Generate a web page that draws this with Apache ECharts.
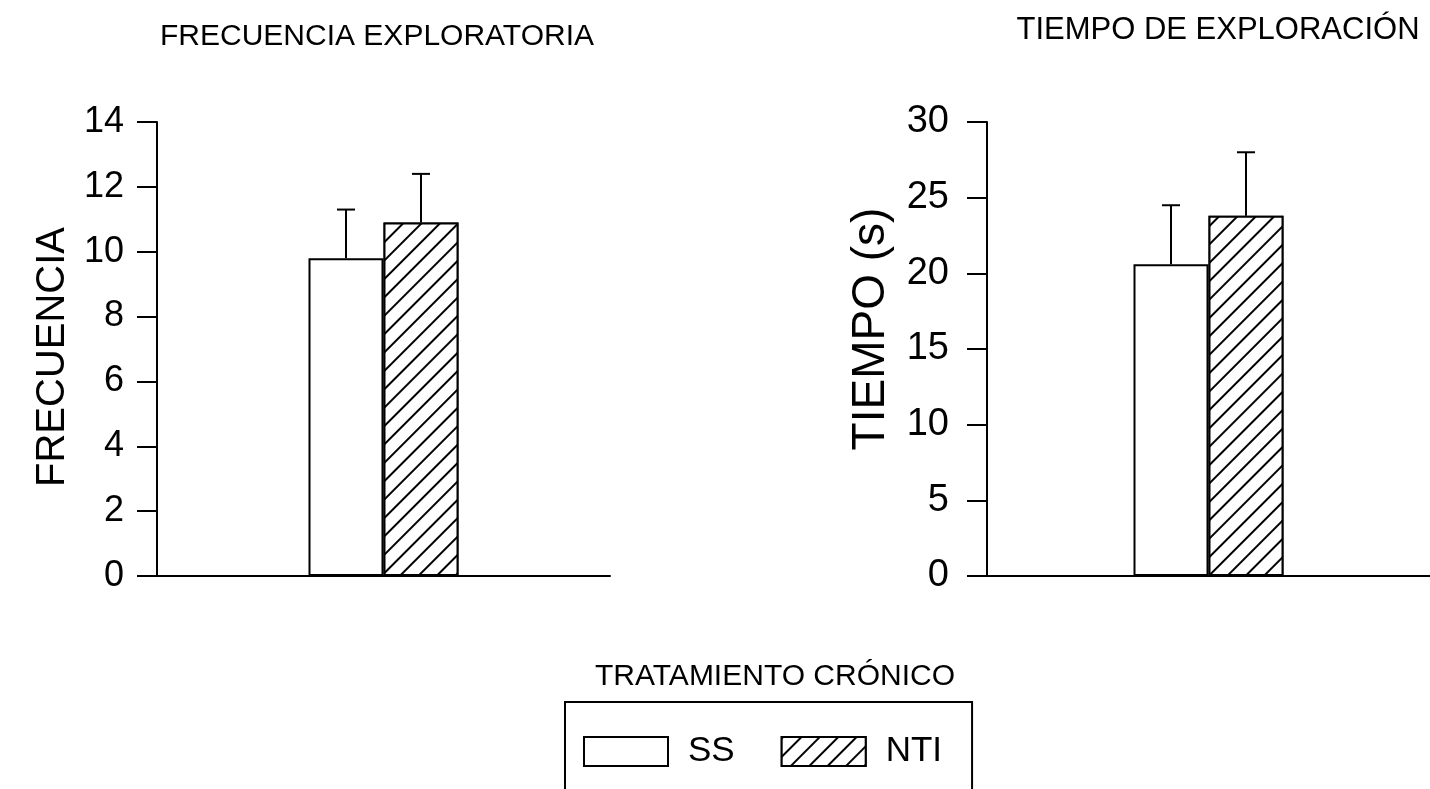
<!DOCTYPE html>
<html>
<head>
<meta charset="utf-8">
<script src="https://cdn.jsdelivr.net/npm/echarts@6/dist/echarts.min.js"></script>
<style>
html,body{margin:0;padding:0;background:#fff;}
#chart{width:1430px;height:789px;}
</style>
</head>
<body>
<div id="chart"></div>
<script>
// ---- data ----
const categories = [''];
const seriesNames = ['SS', 'NTI'];
const freqSS = [9.8];
const freqSSErr = [1.5];
const freqNTI = [10.9];
const freqNTIErr = [1.5];
const timeSS = [20.6];
const timeSSErr = [3.9];
const timeNTI = [23.8];
const timeNTIErr = [4.2];
const freqTicks = { min: 0, max: 14, interval: 2 };
const timeTicks = { min: 0, max: 30, interval: 5 };

// ---- style ----
const FONT = "'Liberation Sans', Arial, sans-serif";
const BAR_W = 75;
const CAP_W = 18;
const hatch = {
  symbol: 'rect', symbolSize: 1, color: '#000', backgroundColor: '#fff',
  dashArrayX: [1, 0], dashArrayY: [2, 11], rotation: -Math.PI / 4
};

function errData(mean1, err1, mean2, err2) {
  return [[0, mean1[0], err1[0], -1], [0, mean2[0], err2[0], 1]];
}

function renderErr(params, api) {
  const cat = api.value(0), v = api.value(1), e = api.value(2), side = api.value(3);
  const p0 = api.coord([cat, v]);
  const p1 = api.coord([cat, v + e]);
  const x = p0[0] + side * BAR_W / 2;
  const st = { stroke: '#000', lineWidth: 2 };
  return {
    type: 'group',
    children: [
      { type: 'line', shape: { x1: x, y1: p0[1], x2: x, y2: p1[1] }, style: st },
      { type: 'line', shape: { x1: x - CAP_W / 2, y1: p1[1], x2: x + CAP_W / 2, y2: p1[1] }, style: st }
    ]
  };
}

const axisLineStyle = { lineStyle: { color: '#000', width: 2 } };

function yAxisOpt(gridIndex, ticks, name, nameSize, labelSize, margin, nameGap, namePad) {
  return {
    type: 'value', gridIndex: gridIndex,
    min: ticks.min, max: ticks.max, interval: ticks.interval,
    name: name, nameLocation: 'middle', nameGap: nameGap,
    nameTextStyle: { fontFamily: FONT, fontSize: nameSize, color: '#000', padding: namePad },
    axisLine: { show: true, lineStyle: { color: '#000', width: 2 } },
    axisTick: { show: true, length: 20, lineStyle: { color: '#000', width: 2 } },
    axisLabel: { fontFamily: FONT, fontSize: labelSize, color: '#000', margin: margin },
    splitLine: { show: false }
  };
}

function xAxisOpt(gridIndex) {
  return {
    type: 'category', gridIndex: gridIndex, data: categories,
    axisLine: axisLineStyle, axisTick: { show: false }, axisLabel: { show: false },
    splitLine: { show: false }
  };
}

const option = {
  backgroundColor: '#fff',
  animation: false,
  title: [
    { text: 'FRECUENCIA EXPLORATORIA', left: 372, top: 17, textAlign: 'center',
      textStyle: { fontFamily: FONT, fontSize: 30, fontWeight: 'normal', color: '#000' } },
    { text: 'TIEMPO DE EXPLORACIÓN', left: 1213, top: 10, textAlign: 'center',
      textStyle: { fontFamily: FONT, fontSize: 31, fontWeight: 'normal', color: '#000' } },
    { text: 'TRATAMIENTO CRÓNICO', left: 770, top: 657, textAlign: 'center',
      textStyle: { fontFamily: FONT, fontSize: 30, fontWeight: 'normal', color: '#000' } }
  ],
  legend: {
    data: seriesNames,
    left: 565, top: 702,
    orient: 'horizontal',
    padding: [32, 30, 40, 18],
    borderColor: '#000', borderWidth: 2,
    itemWidth: 84, itemHeight: 29, itemGap: 46,
    icon: 'rect',
    selectedMode: false,
    textStyle: { fontFamily: FONT, fontSize: 35, color: '#000', padding: [0, 0, 0, 15] }
  },
  grid: [
    { left: 157, right: 820, top: 122, bottom: 213 },
    { left: 987, right: -13, top: 122, bottom: 213 }
  ],
  xAxis: [xAxisOpt(0), xAxisOpt(1)],
  yAxis: [
    yAxisOpt(0, freqTicks, 'FRECUENCIA', 40, 36, 33, 84, [0, 16, 0, 0]),
    yAxisOpt(1, timeTicks, 'TIEMPO (s)', 46, 38, 38, 93, [0, 0, 0, 40])
  ],
  series: [
    { name: 'SS', type: 'bar', xAxisIndex: 0, yAxisIndex: 0, data: freqSS,
      barWidth: BAR_W, barGap: '0%',
      itemStyle: { color: '#fff', borderColor: '#000', borderWidth: 2 } },
    { name: 'NTI', type: 'bar', xAxisIndex: 0, yAxisIndex: 0, data: freqNTI,
      barWidth: BAR_W, barGap: '0%',
      itemStyle: { color: '#fff', borderColor: '#000', borderWidth: 2, decal: hatch } },
    { name: 'SS', type: 'bar', xAxisIndex: 1, yAxisIndex: 1, data: timeSS,
      barWidth: BAR_W, barGap: '0%',
      itemStyle: { color: '#fff', borderColor: '#000', borderWidth: 2 } },
    { name: 'NTI', type: 'bar', xAxisIndex: 1, yAxisIndex: 1, data: timeNTI,
      barWidth: BAR_W, barGap: '0%',
      itemStyle: { color: '#fff', borderColor: '#000', borderWidth: 2, decal: hatch } },
    { type: 'custom', xAxisIndex: 0, yAxisIndex: 0, z: 5, renderItem: renderErr,
      data: errData(freqSS, freqSSErr, freqNTI, freqNTIErr) },
    { type: 'custom', xAxisIndex: 1, yAxisIndex: 1, z: 5, renderItem: renderErr,
      data: errData(timeSS, timeSSErr, timeNTI, timeNTIErr) }
  ]
};

const chart = echarts.init(document.getElementById('chart'), null, { renderer: 'canvas' });
chart.setOption(option);
</script>
</body>
</html>
